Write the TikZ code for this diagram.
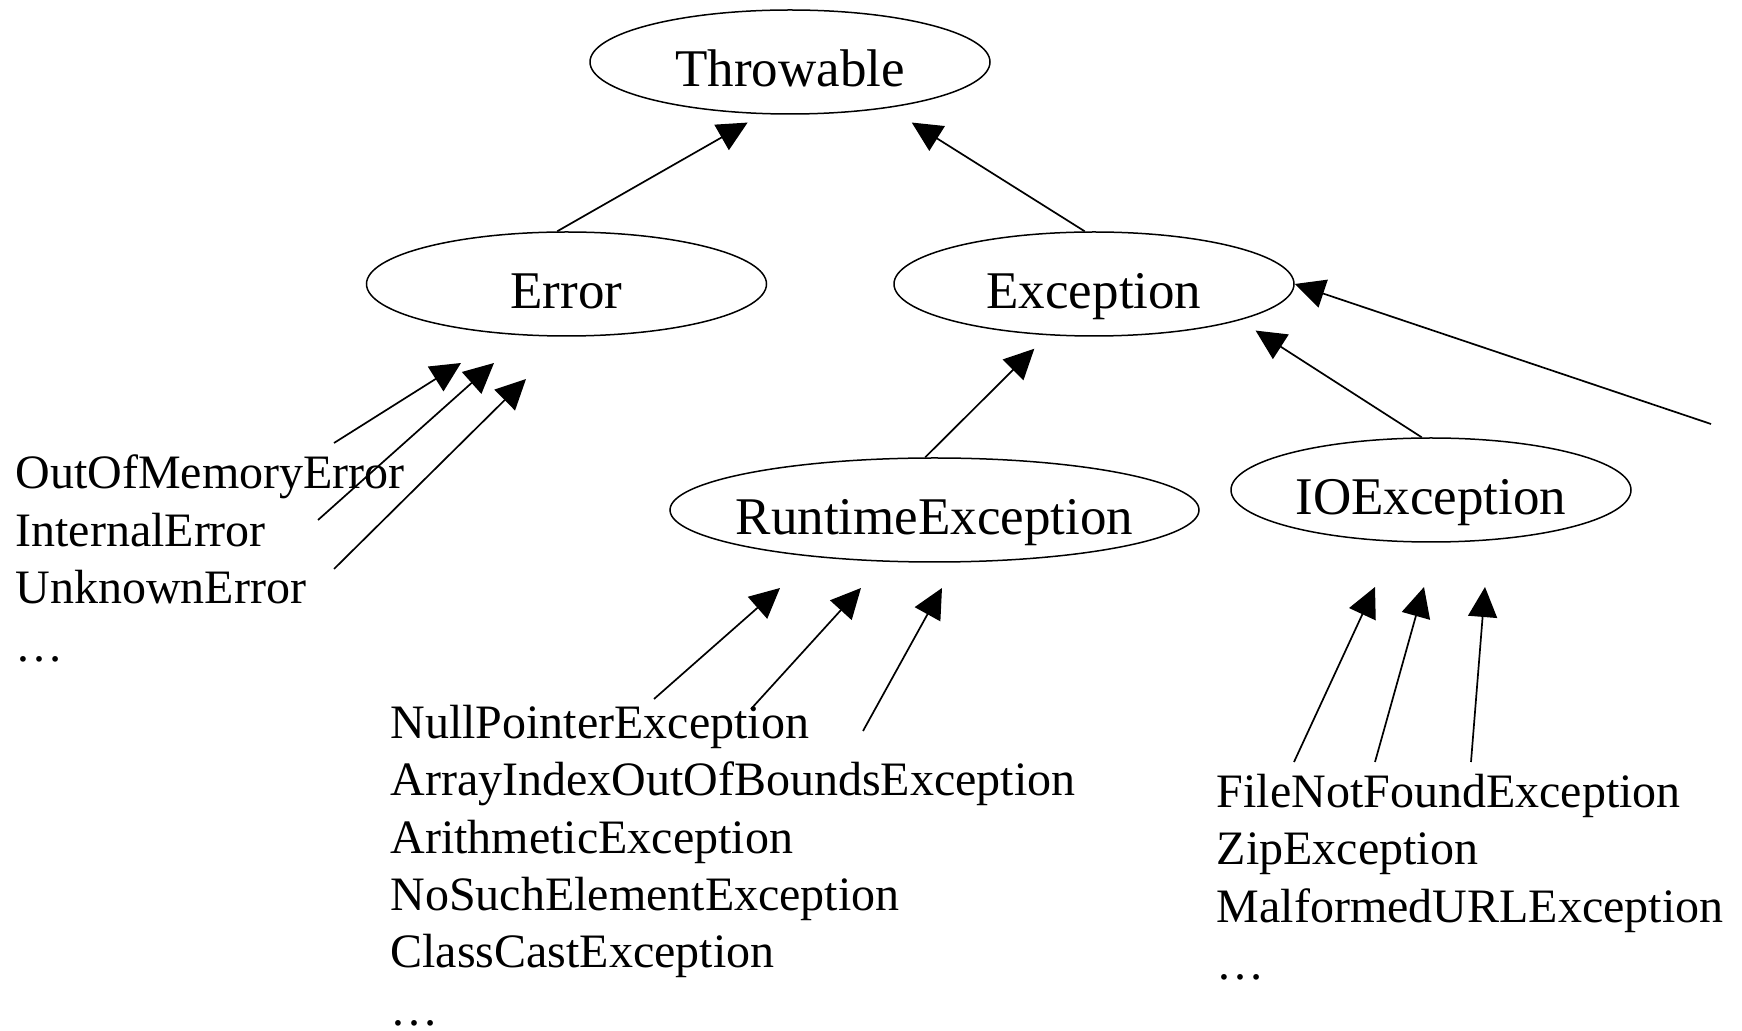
\documentclass[tikz,border=0pt]{standalone}
\usepackage{fontspec}
\setmainfont{Liberation Serif}
\usetikzlibrary{arrows.meta,shapes.geometric}
\tikzset{
  cls/.style={draw,ellipse,line width=0.75pt,inner sep=0pt,
              minimum width=200pt,minimum height=52pt},
  clsname/.style={anchor=base,yshift=-12.5pt,inner sep=0pt,
                  font=\fontsize{26.5}{32}\selectfont},
  sublist/.style={anchor=base west,align=left,inner sep=0pt,
                  font=\fontsize{24}{28.75}\selectfont},
  inh/.style={-{Triangle[length=15pt,width=14.5pt]},line width=0.85pt},
}

\begin{document}
\begin{tikzpicture}[x=0.5pt,y=-0.5pt]
    \useasboundingbox (0,0) rectangle (1742,1031);

    % class ellipses
    \node[cls] (throwable) at (790,62) {};
    \node[clsname] (throwabletxt) at (throwable) {Throwable};
    \node[cls] (error) at (566.5,284) {};
    \node[clsname] (errortxt) at (error) {Error};
    \node[cls] (exception) at (1094,284) {};
    \node[clsname] (exceptiontxt) at (exception) {Exception};
    \node[cls,minimum width=264.5pt] (runtime) at (934.5,510) {};
    \node[clsname] (runtimetxt) at (runtime) {RuntimeException};
    \node[cls] (ioexc) at (1431,490) {};
    \node[clsname] (ioexctxt) at (ioexc) {IOException};

    \draw[inh,shorten >=8.4pt] (error.100) -- (throwable.242);
    \draw[inh,shorten >=13.7pt] (exception.100) -- (throwable.335);
    \draw[inh,shorten >=9.5pt] (runtime.100) -- (exception.228);
    \draw[inh,shorten >=9.5pt] (ioexc.100) -- (exception.346);
    \coordinate (other) at (1711,424);
    \draw[inh] (other) -- (exception.east);

    % subclass lists
    \node[sublist] (errlist) at (15,661.5)
      {OutOfMemoryError\\InternalError\\UnknownError\\…};
    \node[sublist] (rtlist) at (390,1025.5)
      {NullPointerException\\ArrayIndexOutOfBoundsException\\ArithmeticException\\NoSuchElementException\\ClassCastException\\…};
    \node[sublist] (iolist) at (1216.5,979.5)
      {FileNotFoundException\\ZipException\\MalformedURLException\\…};

    \foreach \i/\tx/\ty/\hx/\hy in {1/334/443/461/363,2/318/520/494/363,3/334/569/526/379}{
      \coordinate (errtail\i) at (\tx,\ty);
      \coordinate (errtip\i) at (\hx,\hy);
      \draw[inh] (errtail\i) -- (errtip\i);
    }
    \foreach \i/\tx/\ty/\hx/\hy in {1/654/699/780/588,2/751/709/861/588,3/863/731/942/588}{
      \coordinate (rttail\i) at (\tx,\ty);
      \coordinate (rttip\i) at (\hx,\hy);
      \draw[inh] (rttail\i) -- (rttip\i);
    }
    \foreach \i/\tx/\ty/\hx/\hy in {1/1294/762/1375/587,2/1375/762/1424/587,3/1471/762/1485/587}{
      \coordinate (iotail\i) at (\tx,\ty);
      \coordinate (iotip\i) at (\hx,\hy);
      \draw[inh] (iotail\i) -- (iotip\i);
    }
\end{tikzpicture}
\end{document}
